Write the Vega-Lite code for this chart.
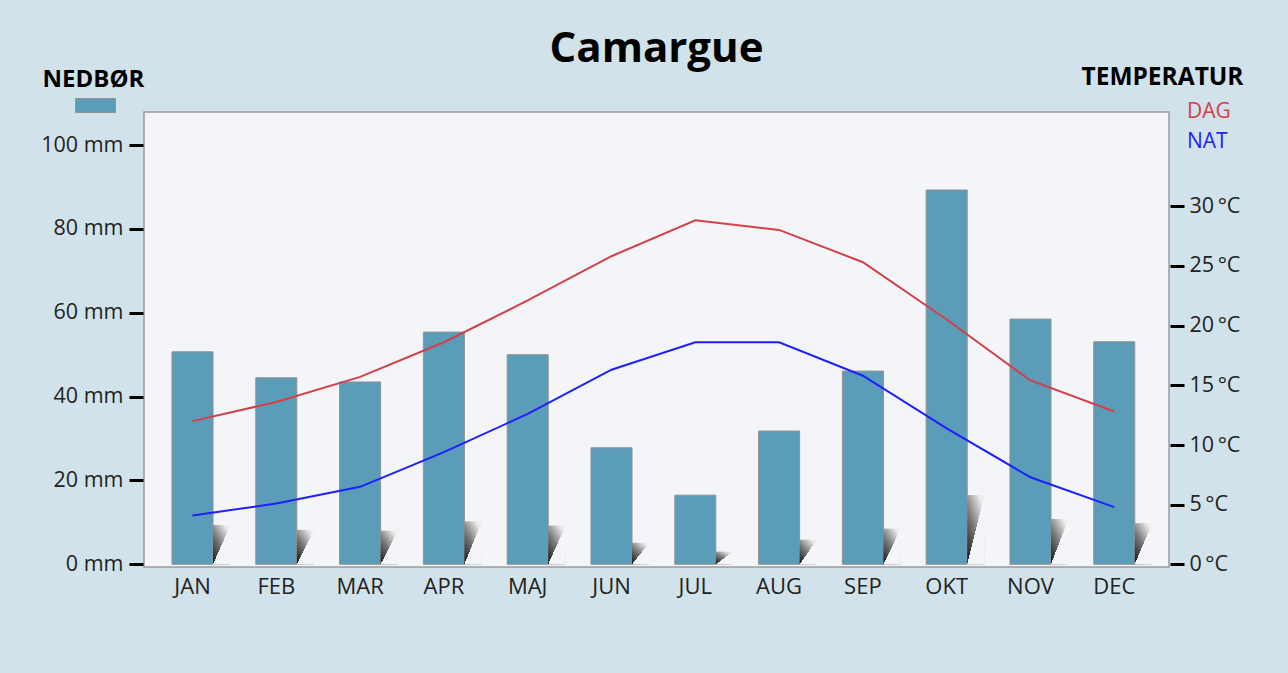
{
  "$schema": "https://vega.github.io/schema/vega-lite/v6.json",
  "width": 1025,
  "height": 455,
  "autosize": {"type": "none"},
  "padding": {"left": 144, "top": 112, "right": 119, "bottom": 106},
  "background": "#d2e2ea",
  "config": {
    "font": "Open Sans",
    "view": {"fill": "#f3f5f8", "stroke": "#9a9a9a", "strokeWidth": 1.5}
  },
  "title": {
    "text": "Camargue",
    "anchor": "middle",
    "fontSize": 42,
    "fontWeight": "bold",
    "font": "Open Sans",
    "color": "#000000",
    "baseline": "alphabetic",
    "offset": -40
  },
  "datasets": {
    "nedbor": [
      {"maaned": "JAN", "mm": 50.7},
      {"maaned": "FEB", "mm": 44.5},
      {"maaned": "MAR", "mm": 43.5},
      {"maaned": "APR", "mm": 55.4},
      {"maaned": "MAJ", "mm": 50.0},
      {"maaned": "JUN", "mm": 27.8},
      {"maaned": "JUL", "mm": 16.5},
      {"maaned": "AUG", "mm": 31.8},
      {"maaned": "SEP", "mm": 46.1},
      {"maaned": "OKT", "mm": 89.3},
      {"maaned": "NOV", "mm": 58.5},
      {"maaned": "DEC", "mm": 53.1}
    ],
    "temperatur": [
      {"maaned": "JAN", "serie": "DAG", "grader": 12.0},
      {"maaned": "FEB", "serie": "DAG", "grader": 13.6},
      {"maaned": "MAR", "serie": "DAG", "grader": 15.7},
      {"maaned": "APR", "serie": "DAG", "grader": 18.6},
      {"maaned": "MAJ", "serie": "DAG", "grader": 22.1},
      {"maaned": "JUN", "serie": "DAG", "grader": 25.8},
      {"maaned": "JUL", "serie": "DAG", "grader": 28.8},
      {"maaned": "AUG", "serie": "DAG", "grader": 28.0},
      {"maaned": "SEP", "serie": "DAG", "grader": 25.3},
      {"maaned": "OKT", "serie": "DAG", "grader": 20.5},
      {"maaned": "NOV", "serie": "DAG", "grader": 15.4},
      {"maaned": "DEC", "serie": "DAG", "grader": 12.8},
      {"maaned": "JAN", "serie": "NAT", "grader": 4.1},
      {"maaned": "FEB", "serie": "NAT", "grader": 5.1},
      {"maaned": "MAR", "serie": "NAT", "grader": 6.5},
      {"maaned": "APR", "serie": "NAT", "grader": 9.4},
      {"maaned": "MAJ", "serie": "NAT", "grader": 12.6},
      {"maaned": "JUN", "serie": "NAT", "grader": 16.3},
      {"maaned": "JUL", "serie": "NAT", "grader": 18.6},
      {"maaned": "AUG", "serie": "NAT", "grader": 18.6},
      {"maaned": "SEP", "serie": "NAT", "grader": 15.8},
      {"maaned": "OKT", "serie": "NAT", "grader": 11.4},
      {"maaned": "NOV", "serie": "NAT", "grader": 7.3},
      {"maaned": "DEC", "serie": "NAT", "grader": 4.8}
    ]
  },
  "layer": [
    {
      "data": {"name": "nedbor"},
      "mark": {"type": "bar", "stroke": "#939393", "strokeWidth": 1},
      "encoding": {
        "x": {
          "field": "maaned",
          "type": "nominal",
          "sort": null,
          "scale": {"paddingInner": 0.51, "paddingOuter": 0.371, "align": 0.45},
          "axis": {
            "title": null,
            "domain": false,
            "ticks": false,
            "labelAngle": 0,
            "labelFontSize": 22,
            "labelColor": "#222222",
            "labelPadding": 9
          }
        },
        "y": {
          "field": "mm",
          "type": "quantitative",
          "scale": {"domain": [-0.64, 107.9], "nice": false, "zero": false},
          "axis": {
            "orient": "left",
            "values": [0, 20, 40, 60, 80, 100],
            "labelExpr": "datum.value + ' mm'",
            "domain": false,
            "grid": false,
            "offset": 1,
            "tickSize": 14,
            "tickWidth": 3,
            "tickColor": "#000000",
            "labelFontSize": 21.5,
            "labelColor": "#222222",
            "labelPadding": 6,
            "title": "NEDBØR",
            "titleAngle": 0,
            "titleX": -50,
            "titleY": -26,
            "titleAlign": "center",
            "titleBaseline": "alphabetic",
            "titleFontSize": 24,
            "titleFontWeight": "bold",
            "titleColor": "#000000"
          }
        },
        "fill": {
          "datum": "NEDBØR",
          "scale": {"range": ["#5b9cb8"]},
          "legend": {
            "orient": "none",
            "legendX": -69,
            "legendY": -27,
            "title": null,
            "labelExpr": "''",
            "padding": 0,
            "symbolType": "M-1,-0.35L1,-0.35L1,0.35L-1,0.35Z",
            "symbolSize": 1600,
            "symbolStrokeColor": "#939393",
            "symbolStrokeWidth": 1,
            "symbolOpacity": 1
          }
        }
      }
    },
    {
      "data": {"name": "nedbor"},
      "mark": {
        "type": "bar",
        "width": 17,
        "xOffset": 29,
        "fill": {
          "gradient": "linear",
          "x1": 0, "y1": 1, "x2": 0.7, "y2": 0,
          "stops": [
            {"offset": 0, "color": "#111111"},
            {"offset": 0.55, "color": "#7a7a7a"},
            {"offset": 1, "color": "#ececec"}
          ]
        }
      },
      "encoding": {
        "x": {"field": "maaned", "type": "nominal", "sort": null},
        "y": {
          "field": "mm",
          "type": "quantitative",
          "scale": {"domain": [-3.46, 583.3], "nice": false, "zero": false},
          "axis": null
        }
      }
    },
    {
      "data": {"name": "nedbor"},
      "mark": {
        "type": "bar",
        "width": 17.5,
        "xOffset": 29.2,
        "fill": {
          "gradient": "linear",
          "x1": 0, "y1": 0, "x2": 1, "y2": 1,
          "stops": [
            {"offset": 0, "color": "rgba(243,245,248,0)"},
            {"offset": 0.5, "color": "rgba(243,245,248,0)"},
            {"offset": 0.5, "color": "#f3f5f8"},
            {"offset": 1, "color": "#f3f5f8"}
          ]
        }
      },
      "encoding": {
        "x": {"field": "maaned", "type": "nominal", "sort": null},
        "y": {
          "field": "mm",
          "type": "quantitative",
          "scale": {"domain": [-3.46, 583.3], "nice": false, "zero": false},
          "axis": null
        }
      }
    },
    {
      "data": {"name": "temperatur"},
      "mark": {"type": "line", "strokeWidth": 2},
      "encoding": {
        "x": {"field": "maaned", "type": "nominal", "sort": null},
        "y": {
          "field": "grader",
          "type": "quantitative",
          "scale": {"domain": [-0.21, 37.87], "nice": false, "zero": false},
          "axis": {
            "orient": "right",
            "values": [0, 5, 10, 15, 20, 25, 30],
            "labelExpr": "datum.value + '\u2009°C'",
            "domain": false,
            "grid": false,
            "offset": 1,
            "tickSize": 14,
            "tickWidth": 3,
            "tickColor": "#000000",
            "labelFontSize": 21.5,
            "labelColor": "#222222",
            "labelPadding": 5,
            "title": "TEMPERATUR",
            "titleAngle": 0,
            "titleX": -8,
            "titleY": -28,
            "titleAlign": "center",
            "titleBaseline": "alphabetic",
            "titleFontSize": 24.5,
            "titleFontWeight": "bold",
            "titleColor": "#000000"
          }
        },
        "stroke": {
          "field": "serie",
          "type": "nominal",
          "scale": {"domain": ["DAG", "NAT"], "range": ["#d2404a", "#1f1fff"]},
          "legend": {
            "orient": "none",
            "legendX": 1022,
            "legendY": -11,
            "title": null,
            "padding": 0,
            "symbolSize": 0,
            "symbolOpacity": 0,
            "symbolStrokeWidth": 0,
            "labelOffset": 0,
            "labelFontSize": 21,
            "rowPadding": 8,
            "encode": {
              "labels": {
                "update": {
                  "fill": {"signal": "datum.value === 'DAG' ? '#d2404a' : '#1f1fff'"}
                }
              }
            }
          }
        }
      }
    }
  ],
  "resolve": {"scale": {"y": "independent"}, "axis": {"y": "independent"}}
}
